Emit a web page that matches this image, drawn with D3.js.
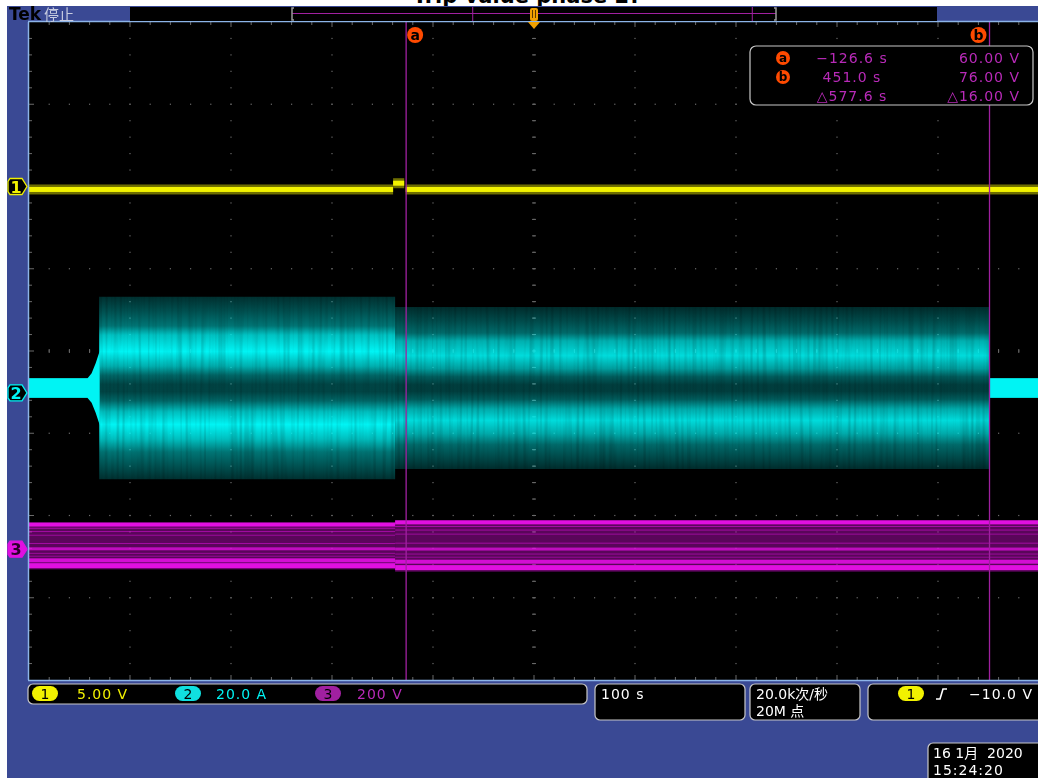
<!DOCTYPE html>
<html>
<head>
<meta charset="utf-8">
<script src="https://cdn.jsdelivr.net/npm/d3@7/dist/d3.min.js"></script>
<style>
  body { margin: 0; background: #fff; }
  svg { display: block; }
  text { font-family: "DejaVu Sans", "Noto Sans CJK SC", sans-serif; }
</style>
</head>
<body>
<svg id="scope" width="1038" height="778"></svg>
<script>
// ---------- valores leídos de la pantalla ----------
// eje de tiempo: 100 s/div, 10 divisiones, centro = disparo
const timeDomain = [-500, 500];
const cursorNames = ["a", "b"];
const cursorTimes = [-126.6, 451.0];
const readoutTimes = ["−126.6 s", "451.0 s", "△577.6 s"];
const readoutVolts = ["60.00 V", "76.00 V", "△16.00 V"];

// canales
const chNames = ["1", "2", "3"];
const chScales = [5, 20, 200];                 // unidades / div
const chScaleLabels = ["5.00 V", "20.0 A", "200 V"];
const chGround = [2.0, -0.51, -2.41];          // marcador de tierra (div desde el centro)

// canal 1 (V): tramos de nivel constante
const ch1Spans = [[-500, -139.5], [-139.5, -128.5], [-127, 500]];
const ch1Volts = [-0.18, 0.2, -0.18];

// canal 2 (A): envolvente de la corriente
const ch2Center = 1.2;
const ch2IdleSpans = [[-500, -441], [451.5, 500]];
const ch2IdleAmp = 2.4;
const ch2OnsetTimes = [-442, -438, -434, -430];
const ch2OnsetAmps = [2.4, 3.6, 6, 9];
const ch2BurstTimes = [-430.5, -137.5];
const ch2BurstAmps = [22.2, 22.2];
const ch2TailTimes = [-137.5, 451.5];
const ch2TailAmps = [19.7, 19.7];
// perfil de persistencia (posición relativa arriba→abajo, intensidad)
const ch2ProfilePos = [0, 0.08, 0.16, 0.21, 0.30, 0.38, 0.43, 0.48, 0.52, 0.57, 0.63, 0.70, 0.78, 0.85, 0.93, 1];
const ch2ProfileLev = [0.2, 0.33, 0.48, 0.8, 1.0, 0.72, 0.42, 0.28, 0.28, 0.42, 0.78, 1.0, 0.78, 0.48, 0.33, 0.2];

// canal 3 (V): banda de tensión
const ch3Center = 7;
const ch3Spans = [[-500, -137.5], [-137.5, 500]];
const ch3SpanGain = [1.0, 1.1];
const ch3HalfTop = 58, ch3HalfBottom = -56;
const ch3LineVolts = [53, 44, 36, 27, 7, -6, -17, -24, -34, -47];
const ch3LineLev = [1.0, 0.6, 0.55, 0.5, 0.55, 0.75, 0.5, 0.45, 0.9, 1.0];
const ch3LineWidth = [4, 1, 1, 1, 1, 3, 1, 1, 4, 5];

// ---------- geometría ----------
const svg = d3.select("#scope");
const plot = { x0: 29, x1: 1039, y0: 22, y1: 680 };
const colYellow = "#f2f200", colCyan = "#00f4f4", colMag = "#e010e0";
const blue = "#3a4994";
const chColors = [colYellow, colCyan, colMag];

const x = d3.scaleLinear().domain(timeDomain).range([plot.x0, plot.x1]);
const yDiv = d3.scaleLinear().domain([4, -4]).range([plot.y0, plot.y1]);
const chY = (ch, v) => yDiv(chGround[ch] + v / chScales[ch]);
const divW = (plot.x1 - plot.x0) / 10, divH = (plot.y1 - plot.y0) / 8;

// fondo
svg.append("rect").attr("width", 1038).attr("height", 778).attr("fill", "#fff");
svg.append("text").attr("x", 527).attr("y", 3).attr("text-anchor", "middle")
  .attr("font-size", 21).attr("font-weight", "bold").attr("fill", "#000")
  .text("Trip value phase 2?");
svg.append("rect").attr("x", 7).attr("y", 6).attr("width", 1031).attr("height", 772).attr("fill", blue);

const defs = svg.append("defs");
defs.append("clipPath").attr("id", "plotClip").append("rect")
  .attr("x", plot.x0).attr("y", plot.y0).attr("width", plot.x1 - plot.x0).attr("height", plot.y1 - plot.y0);

// gradiente para la envolvente del canal 2
const g2 = defs.append("linearGradient").attr("id", "ch2grad")
  .attr("x1", 0).attr("y1", 0).attr("x2", 0).attr("y2", 1);
ch2ProfilePos.forEach((p, i) => {
  g2.append("stop").attr("offset", p).attr("stop-color", colCyan).attr("stop-opacity", ch2ProfileLev[i]);
});

// textura vertical suave (persistencia)
const f = defs.append("filter").attr("id", "streak").attr("x", 0).attr("y", -0.05).attr("width", 1).attr("height", 1.1);
f.append("feTurbulence").attr("type", "fractalNoise").attr("baseFrequency", "0.35 0.01")
  .attr("numOctaves", 1).attr("seed", 4).attr("result", "n");
f.append("feColorMatrix").attr("in", "n").attr("type", "matrix")
  .attr("values", "0 0 0 0 0  0 0 0 0 0  0 0 0 0 0  0 0 0 -0.45 1.2").attr("result", "a");
f.append("feComposite").attr("in", "SourceGraphic").attr("in2", "a").attr("operator", "in");

// área de la retícula
svg.append("rect").attr("x", plot.x0).attr("y", plot.y0)
  .attr("width", plot.x1 - plot.x0).attr("height", plot.y1 - plot.y0).attr("fill", "#000");

// ---------- retícula ----------
const grid = svg.append("g").attr("fill", "#6a6a6a");
for (let k = 1; k < 8; k++) {
  const yy = plot.y0 + k * divH;
  for (let i = 1; i < 50; i++) {
    grid.append("rect").attr("x", plot.x0 + i * divW / 5 - 0.6).attr("y", yy - 0.6).attr("width", 1.2).attr("height", 1.2);
  }
}
for (let k = 1; k < 10; k++) {
  const xx = plot.x0 + k * divW;
  for (let j = 1; j < 40; j++) {
    grid.append("rect").attr("x", xx - 0.6).attr("y", plot.y0 + j * divH / 5 - 0.6).attr("width", 1.2).attr("height", 1.2);
  }
}
// marcas en los bordes y cruz central
const ticks = svg.append("g").attr("stroke", "#6a6a6a").attr("stroke-width", 1);
for (let i = 1; i < 50; i++) {
  const xx = plot.x0 + i * divW / 5;
  const len = i % 5 === 0 ? 5 : 3;
  ticks.append("line").attr("x1", xx).attr("x2", xx).attr("y1", plot.y0).attr("y2", plot.y0 + len);
  ticks.append("line").attr("x1", xx).attr("x2", xx).attr("y1", plot.y1).attr("y2", plot.y1 - len);
  const cy = yDiv(0);
  ticks.append("line").attr("x1", xx).attr("x2", xx).attr("y1", cy - 2).attr("y2", cy + 2);
}
for (let j = 1; j < 40; j++) {
  const yy = plot.y0 + j * divH / 5;
  const len = j % 5 === 0 ? 5 : 3;
  ticks.append("line").attr("y1", yy).attr("y2", yy).attr("x1", plot.x0).attr("x2", plot.x0 + len);
  const cx = x(0);
  ticks.append("line").attr("y1", yy).attr("y2", yy).attr("x1", cx - 2).attr("x2", cx + 2);
}

// ---------- formas de onda ----------
const waves = svg.append("g").attr("clip-path", "url(#plotClip)");

// canal 3
const ch3 = waves.append("g");
ch3Spans.forEach((s, si) => {
  const gain = ch3SpanGain[si];
  const yTop = chY(2, ch3Center + ch3HalfTop * gain), yBot = chY(2, ch3Center + ch3HalfBottom * gain);
  ch3.append("rect").attr("x", x(s[0])).attr("width", x(s[1]) - x(s[0]))
    .attr("y", yTop).attr("height", yBot - yTop).attr("fill", colMag).attr("opacity", 0.4);
  ch3LineVolts.forEach((v, i) => {
    const yy = chY(2, ch3Center + v * gain);
    ch3.append("rect").attr("x", x(s[0])).attr("width", x(s[1]) - x(s[0]))
      .attr("y", yy - ch3LineWidth[i] / 2).attr("height", ch3LineWidth[i])
      .attr("fill", colMag).attr("opacity", ch3LineLev[i]);
  });
});

// canal 2
const ch2 = waves.append("g");
const area2 = (amps, times) => d3.area()
  .x((d, i) => x(times[i]))
  .y0((d, i) => chY(1, ch2Center + amps[i]))
  .y1((d, i) => chY(1, ch2Center - amps[i]))(amps);
const ch2Band = ch2.append("g").attr("filter", "url(#streak)");
ch2Band.append("path").attr("d", area2(ch2BurstAmps, ch2BurstTimes)).attr("fill", "url(#ch2grad)");
ch2Band.append("path").attr("d", area2(ch2TailAmps, ch2TailTimes)).attr("fill", "url(#ch2grad)").attr("opacity", 0.9);
ch2IdleSpans.forEach(s => {
  const yTop = chY(1, ch2Center + ch2IdleAmp), yBot = chY(1, ch2Center - ch2IdleAmp);
  ch2.append("rect").attr("x", x(s[0])).attr("width", x(s[1]) - x(s[0]))
    .attr("y", yTop).attr("height", yBot - yTop).attr("fill", colCyan);
});
ch2.append("path").attr("d", area2(ch2OnsetAmps, ch2OnsetTimes)).attr("fill", colCyan);

// canal 1: halo + núcleo por tramo
ch1Spans.forEach((s, i) => {
  const yy = chY(0, ch1Volts[i]);
  waves.append("rect").attr("x", x(s[0])).attr("width", x(s[1]) - x(s[0]))
    .attr("y", yy - 5).attr("height", 10).attr("fill", "#6e6e00");
  waves.append("rect").attr("x", x(s[0])).attr("width", x(s[1]) - x(s[0]))
    .attr("y", yy - 2.5).attr("height", 5).attr("fill", colYellow);
});

// ---------- cursores ----------
const cur = svg.append("g");
cursorTimes.forEach((t, i) => {
  cur.append("line").attr("x1", x(t)).attr("x2", x(t)).attr("y1", plot.y0).attr("y2", plot.y1)
    .attr("stroke", "#a020a0").attr("stroke-width", 1.3);
  const cx = x(t) + (i === 0 ? 9 : -11);
  cur.append("circle").attr("cx", cx).attr("cy", 35).attr("r", 8).attr("fill", "#ff4a00");
  cur.append("text").attr("x", cx).attr("y", 40).attr("text-anchor", "middle")
    .attr("font-size", 14).attr("font-weight", "bold").attr("fill", "#000").text(cursorNames[i]);
});

// recuadro de lectura de cursores
const ro = svg.append("g");
ro.append("rect").attr("x", 750).attr("y", 46).attr("width", 283).attr("height", 59).attr("rx", 6)
  .attr("fill", "#000").attr("stroke", "#c8c8c8").attr("stroke-width", 1.2);
readoutTimes.forEach((s, i) => {
  const yy = 63 + i * 19;
  if (i < 2) {
    ro.append("circle").attr("cx", 783).attr("cy", yy - 5).attr("r", 7).attr("fill", "#ff4a00");
    ro.append("text").attr("x", 783).attr("y", yy - 1).attr("text-anchor", "middle")
      .attr("font-size", 12).attr("font-weight", "bold").attr("fill", "#000").text(cursorNames[i]);
  }
  ro.append("text").attr("x", 852).attr("y", yy).attr("text-anchor", "middle")
    .attr("font-size", 14).attr("letter-spacing", 1).attr("fill", "#b82ab8").text(s);
  ro.append("text").attr("x", 1020).attr("y", yy).attr("text-anchor", "end")
    .attr("font-size", 14).attr("letter-spacing", 1).attr("fill", "#b82ab8").text(readoutVolts[i]);
});

// ---------- borde de la retícula ----------
svg.append("line").attr("x1", plot.x0 - 1).attr("x2", 1038).attr("y1", plot.y0 - 0.5).attr("y2", plot.y0 - 0.5)
  .attr("stroke", "#8cb4e8").attr("stroke-width", 1.5);
svg.append("line").attr("x1", plot.x0 - 0.5).attr("x2", plot.x0 - 0.5).attr("y1", plot.y0).attr("y2", plot.y1)
  .attr("stroke", "#8cb4e8").attr("stroke-width", 1.5);
svg.append("line").attr("x1", plot.x0 - 1).attr("x2", 1038).attr("y1", plot.y1 + 0.5).attr("y2", plot.y1 + 0.5)
  .attr("stroke", "#8cb4e8").attr("stroke-width", 1.5);

// ---------- barra superior ----------
svg.append("text").attr("x", 9).attr("y", 20).attr("font-family", "DejaVu Serif").attr("font-weight", "bold")
  .attr("font-size", 17).attr("fill", "#000").text("Tek");
svg.append("text").attr("x", 44).attr("y", 20).attr("font-family", "Noto Sans CJK SC")
  .attr("font-size", 15).attr("fill", "#c8cce0").text("停止");
svg.append("rect").attr("x", 130).attr("y", 7).attr("width", 807).attr("height", 14).attr("fill", "#000");
const rec = d3.scaleLinear().domain(timeDomain).range([292, 776]);
svg.append("line").attr("x1", rec(-500)).attr("x2", rec(500)).attr("y1", 13.5).attr("y2", 13.5)
  .attr("stroke", "#a020a0").attr("stroke-width", 1);
[-500, 500].forEach((t, i) => {
  const xx = rec(t);
  svg.append("path").attr("d", `M${xx + (i ? -2 : 2)},8 H${xx} V20 H${xx + (i ? -2 : 2)}`)
    .attr("fill", "none").attr("stroke", "#9a9a9a").attr("stroke-width", 1.5);
});
cursorTimes.forEach(t => {
  svg.append("line").attr("x1", rec(t)).attr("x2", rec(t)).attr("y1", 7).attr("y2", 21)
    .attr("stroke", "#a020a0").attr("stroke-width", 1);
});
// marcador de disparo
const tx = rec(0);
svg.append("rect").attr("x", tx - 4).attr("y", 8).attr("width", 8).attr("height", 13).attr("rx", 2).attr("fill", "#f0a000");
svg.append("path").attr("d", `M${tx - 1.5},10 V18 M${tx + 1.5},10 V18`).attr("stroke", "#5a3a00").attr("stroke-width", 1);
svg.append("path").attr("d", `M${x(0) - 6},22 L${x(0) + 6},22 L${x(0)},29 Z`).attr("fill", "#f0a000");

// ---------- marcadores de canal ----------
const chMarkY = chGround.map(g => yDiv(g));
chNames.forEach((n, i) => {
  const yy = chMarkY[i];
  const filled = i === 2;
  svg.append("path").attr("d", `M10,${yy - 8} L22,${yy - 8} L27,${yy} L22,${yy + 8} L10,${yy + 8} L8,${yy + 5} V${yy - 5} Z`)
    .attr("fill", filled ? chColors[i] : "#000").attr("stroke", chColors[i]).attr("stroke-width", 1.3);
  svg.append("text").attr("x", 16).attr("y", yy + 6).attr("text-anchor", "middle")
    .attr("font-family", "DejaVu Serif").attr("font-weight", "bold").attr("font-size", 16)
    .attr("fill", filled ? "#2a002a" : chColors[i]).text(n);
});

// ---------- barra inferior ----------
const boxes = [
  { x: 28, w: 559, h: 20 },
  { x: 595, w: 150, h: 36 },
  { x: 750, w: 110, h: 36 },
  { x: 868, w: 180, h: 36 }
];
boxes.forEach(b => {
  svg.append("rect").attr("x", b.x).attr("y", 684).attr("width", b.w).attr("height", b.h).attr("rx", 5)
    .attr("fill", "#000").attr("stroke", "#c8c8c8").attr("stroke-width", 1.2);
});
const pillX = [45, 188, 328], labelX = [77, 216, 357];
const pillFill = [colYellow, "#10e0e0", "#a020a0"];
chNames.forEach((n, i) => {
  svg.append("rect").attr("x", pillX[i] - 13).attr("y", 686).attr("width", 26).attr("height", 15).attr("rx", 7.5)
    .attr("fill", pillFill[i]);
  svg.append("text").attr("x", pillX[i]).attr("y", 699).attr("text-anchor", "middle")
    .attr("font-size", 14).attr("fill", "#000").text(n);
  svg.append("text").attr("x", labelX[i]).attr("y", 699).attr("font-size", 14).attr("letter-spacing", 1)
    .attr("fill", i === 2 ? "#b82ab8" : chColors[i]).text(chScaleLabels[i]);
});
svg.append("text").attr("x", 601).attr("y", 699).attr("font-size", 14).attr("letter-spacing", 1).attr("fill", "#fff").text("100 s");
svg.append("text").attr("x", 756).attr("y", 699).attr("font-size", 14).attr("fill", "#fff").text("20.0k次/秒");
svg.append("text").attr("x", 756).attr("y", 716).attr("font-size", 14).attr("fill", "#fff").text("20M 点");
svg.append("rect").attr("x", 898).attr("y", 686).attr("width", 26).attr("height", 15).attr("rx", 7.5).attr("fill", colYellow);
svg.append("text").attr("x", 911).attr("y", 699).attr("text-anchor", "middle").attr("font-size", 14).attr("fill", "#000").text("1");
svg.append("path").attr("d", "M936,699 H940 L943,689 H947").attr("fill", "none").attr("stroke", "#fff").attr("stroke-width", 1.6);
svg.append("text").attr("x", 1033).attr("y", 699).attr("text-anchor", "end").attr("font-size", 14).attr("letter-spacing", 1)
  .attr("fill", "#fff").text("−10.0 V");

// fecha
svg.append("rect").attr("x", 928).attr("y", 743).attr("width", 120).attr("height", 40).attr("rx", 5)
  .attr("fill", "#000").attr("stroke", "#c8c8c8").attr("stroke-width", 1.2);
svg.append("text").attr("x", 933).attr("y", 758).attr("font-size", 14).attr("fill", "#fff")
  .style("white-space", "pre").text("16 1月  2020");
svg.append("text").attr("x", 933).attr("y", 775).attr("font-size", 14).attr("letter-spacing", 1).attr("fill", "#fff").text("15:24:20");
</script>
</body>
</html>
